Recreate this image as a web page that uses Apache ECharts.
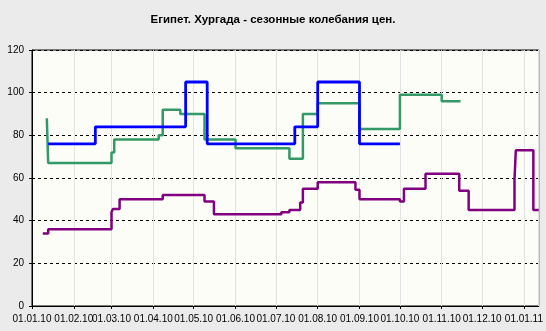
<!DOCTYPE html>
<html><head><meta charset="utf-8">
<script src="https://cdn.jsdelivr.net/npm/echarts@6/dist/echarts.min.js"></script>
<style>html,body{margin:0;padding:0;background:#ebebeb}#c{width:546px;height:331px}</style>
</head><body><div id="c"></div>
<script>
const titleText = 'Египет. Хургада - сезонные колебания цен.';
const xMin = '2010-01-01';
const xMax = '2011-01-12';
const yTicks = [0, 20, 40, 60, 80, 100, 120];

const blueDates  = ['2010-01-13','2010-02-17','2010-04-25','2010-05-11','2010-07-15','2010-08-01','2010-09-01','2010-10-01'];
const blueValues = [76, 84, 105, 76, 84, 105, 76, 76];

const greenDates  = ['2010-01-12','2010-01-13','2010-03-01','2010-03-03','2010-04-05','2010-04-08','2010-04-21','2010-05-09','2010-06-01','2010-07-11','2010-07-21','2010-08-01','2010-09-01','2010-10-01','2010-11-01','2010-11-15'];
const greenValues = [88, 67, 72, 78, 80, 92, 90, 78, 74, 69, 90, 95, 83, 99, 96, 96];

const purpleDates  = ['2010-01-09','2010-01-13','2010-03-01','2010-03-02','2010-03-07','2010-04-08','2010-05-09','2010-05-16','2010-07-05','2010-07-11','2010-07-19','2010-07-21','2010-08-01','2010-08-29','2010-09-01','2010-10-01','2010-10-04','2010-10-20','2010-11-14','2010-11-21','2010-12-25','2010-12-26','2011-01-08','2011-01-12'];
const purpleValues = [34, 36, 44, 45.5, 50, 52, 49, 43, 44, 45, 48.5, 55, 58, 54.5, 50, 49, 55, 62, 54, 45, 59, 73, 45, 45];

function pairs(d, v) { return d.map((x, i) => [x, v[i]]); }
function pad(n) { return (n < 10 ? '0' : '') + n; }
function fmt(v) {
  const d = new Date(v);
  return pad(d.getDate()) + '.' + pad(d.getMonth() + 1) + '.' + String(d.getFullYear()).slice(2);
}
const FONT = 'Liberation Sans';

const chart = echarts.init(document.getElementById('c'), null, { renderer: 'canvas' });
chart.setOption({
  backgroundColor: '#ebebeb',
  animation: false,
  title: {
    text: titleText, left: 'center', top: 9,
    textStyle: { fontFamily: FONT, fontSize: 11.5, fontWeight: 'bold', color: '#000' }
  },
  grid: { left: 32, right: 7, top: 50, bottom: 25, show: true, backgroundColor: '#fdfdf7', borderColor: '#000', borderWidth: 1 },
  xAxis: {
    type: 'time', min: xMin, max: xMax, splitNumber: 12,
    minInterval: 28 * 864e5, maxInterval: 31 * 864e5,
    axisLine: { lineStyle: { color: '#000', width: 1 } },
    axisTick: { show: true, length: 3, lineStyle: { color: '#000' } },
    axisLabel: { formatter: fmt, fontSize: 10, color: '#000', margin: 8, fontFamily: FONT, hideOverlap: false },
    splitLine: { show: true, lineStyle: { color: '#e2e2e2', width: 1 } }
  },
  yAxis: {
    type: 'value', min: yTicks[0], max: yTicks[yTicks.length - 1], interval: 20,
    axisLine: { show: true, lineStyle: { color: '#000' } },
    axisTick: { show: true, length: 3, lineStyle: { color: '#000' } },
    axisLabel: { fontSize: 10, color: '#000', margin: 8, fontFamily: FONT },
    splitLine: { show: true, lineStyle: { color: '#000', type: [3, 3], width: 1 } }
  },
  series: [
    { name: 'Серия 3', type: 'line', step: 'end', showSymbol: false, data: pairs(purpleDates, purpleValues),
      lineStyle: { color: '#800080', width: 2.5 }, itemStyle: { color: '#800080' } },
    { name: 'Серия 2', type: 'line', step: 'end', showSymbol: false, data: pairs(greenDates, greenValues),
      lineStyle: { color: '#339966', width: 2.5 }, itemStyle: { color: '#339966' } },
    { name: 'Серия 1', type: 'line', step: 'end', showSymbol: false, data: pairs(blueDates, blueValues),
      lineStyle: { color: '#0000ff', width: 2.8 }, itemStyle: { color: '#0000ff' } }
  ]
});
</script>
</body></html>
